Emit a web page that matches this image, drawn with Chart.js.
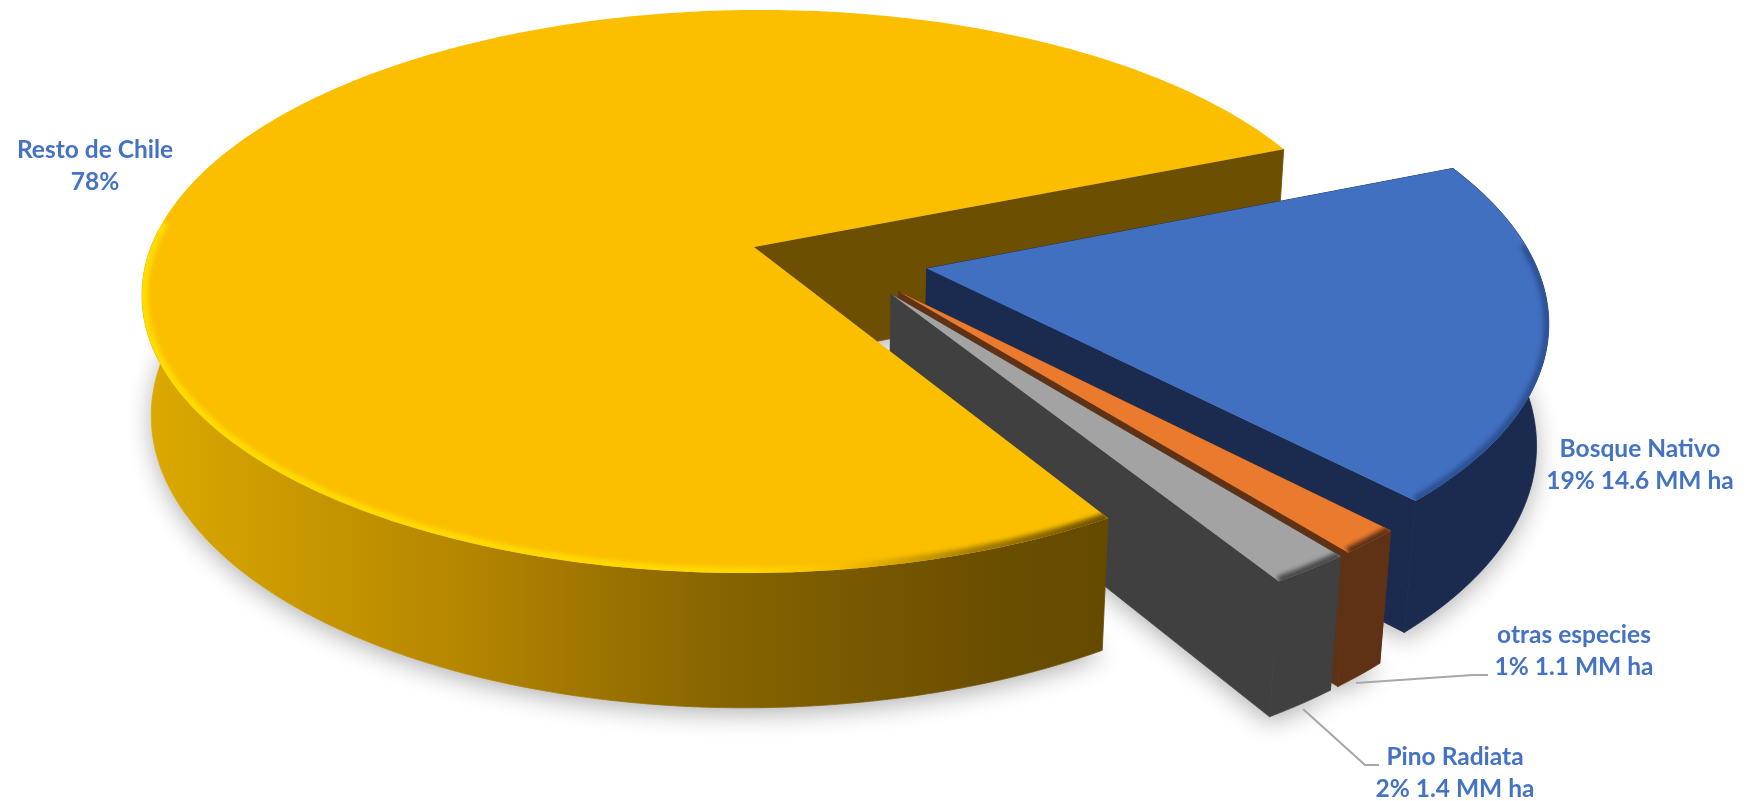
<!DOCTYPE html>
<html lang="es">
<head>
<meta charset="utf-8">
<title>Superficie forestal de Chile</title>
<script src="https://cdn.jsdelivr.net/npm/chart.js@4/dist/chart.umd.min.js"></script>
<style>
  html, body { margin: 0; padding: 0; background: #fff; }
  #wrap { width: 1750px; height: 801px; }
</style>
</head>
<body>
<div id="wrap"><canvas id="pie"></canvas></div>
<script>
// --- datos ---
const categories = ['Resto de Chile', 'Bosque Nativo', 'otras especies', 'Pino Radiata'];
const hectares = [59, 14.6, 1.1, 1.4];  // MM ha
const valueLabels = ['78%', '19% 14.6 MM ha', '1% 1.1 MM ha', '2% 1.4 MM ha'];

// --- colores ---
const topColors = ['#fbbf00', '#4170c0', '#ea7a2e', '#a3a3a3'];
const wallColors = ['#6c4f00', '#1a2b4f', '#5f3215', '#404040'];
const rimColors = ['#ffdc00', '#2d5296', '#5f3215', '#4a4a4a'];
const textColor = '#4472c4';

// Camara de la vista 3D: plano del disco -> pantalla
const view = { cx: 754, cy: 247, a: 603, b: 274.5, c: 120.4, k: 0.158, m: 0.015, shear: -8 };

function project(u, v, z) {
  const w = 1 - view.k * v + view.m * z;
  return [view.cx + (view.a * u + view.shear * v) / w, view.cy + (view.b * v + view.c * z) / w];
}

// Lee la geometria de cada arco ya calculada por Chart.js
function sliceGeometry(arc, shift) {
  const p = arc.getProps(['startAngle', 'endAngle', 'outerRadius']);
  const mid = (p.startAngle + p.endAngle) / 2;
  const off = arc.options.offset / p.outerRadius;
  return {
    start: p.startAngle,
    end: p.endAngle,
    ou: off * Math.cos(mid) + shift[0],
    ov: off * Math.sin(mid) + shift[1]
  };
}

function rimPoints(s, z, from, to) {
  const pts = [];
  const a0 = from === undefined ? s.start : from;
  const a1 = to === undefined ? s.end : to;
  const n = Math.max(2, Math.ceil((a1 - a0) / 0.02));
  for (let i = 0; i <= n; i++) {
    const a = a0 + (a1 - a0) * i / n;
    pts.push(project(s.ou + Math.cos(a), s.ov + Math.sin(a), z));
  }
  return pts;
}

function tracePoly(ctx, pts) {
  ctx.beginPath();
  pts.forEach((p, i) => i ? ctx.lineTo(p[0], p[1]) : ctx.moveTo(p[0], p[1]));
  ctx.closePath();
}

// relleno con trazo fino para que no queden rendijas claras entre caras
function paint(ctx, fill) {
  ctx.fillStyle = fill;
  ctx.strokeStyle = fill;
  ctx.lineWidth = 0.8;
  ctx.fill();
  ctx.stroke();
}

function radialWall(ctx, s, angle, fill) {
  const tip = [s.ou, s.ov];
  const edge = [s.ou + Math.cos(angle), s.ov + Math.sin(angle)];
  tracePoly(ctx, [project(tip[0], tip[1], 0), project(edge[0], edge[1], 0),
                  project(edge[0], edge[1], 1), project(tip[0], tip[1], 1)]);
  paint(ctx, fill);
}

function outerWall(ctx, s, fill, from, to) {
  tracePoly(ctx, rimPoints(s, 0, from, to).concat(rimPoints(s, 1, from, to).reverse()));
  paint(ctx, fill);
}

function topFace(ctx, s, i) {
  const outline = [project(s.ou, s.ov, 0)].concat(rimPoints(s, 0));
  tracePoly(ctx, outline);
  ctx.fillStyle = topColors[i];
  ctx.fill();

  // bisel suave en el borde delantero
  let from = s.start, to = s.end;
  const step = 0.01;
  while (from < to && Math.sin(from) < -0.1) from += step;
  while (to > from && Math.sin(to) < -0.1) to -= step;
  if (i === 1) from = s.start + 0.3;

  ctx.save();
  tracePoly(ctx, outline);
  ctx.clip();
  ctx.filter = 'blur(2px)';
  ctx.beginPath();
  rimPoints(s, 0, from, to).forEach((p, j) => j ? ctx.lineTo(p[0], p[1]) : ctx.moveTo(p[0], p[1]));
  ctx.lineWidth = i === 0 ? 12 : 11;
  if (i === 0) {
    const g = ctx.createLinearGradient(140, 0, 1112, 0);
    g.addColorStop(0, '#ffdc00');
    g.addColorStop(0.62, '#ffd800');
    g.addColorStop(0.72, '#fbbf00');
    g.addColorStop(0.86, '#a67f00');
    g.addColorStop(1, '#6c4f00');
    ctx.strokeStyle = g;
  } else {
    ctx.strokeStyle = rimColors[i];
  }
  ctx.stroke();
  ctx.restore();
}

function drawLabels(ctx) {
  ctx.save();
  ctx.fillStyle = textColor;
  ctx.font = 'bold 24.5px Lato, "Open Sans", sans-serif';
  ctx.textAlign = 'center';
  ctx.textBaseline = 'alphabetic';
  labelSpots.forEach((spot, i) => {
    ctx.fillText(categories[i], spot[0], spot[1]);
    ctx.fillText(valueLabels[i], spot[0], spot[1] + 32);
  });
  ctx.strokeStyle = '#a8a8a8';
  ctx.lineWidth = 2.2;
  leaders.forEach(line => {
    ctx.beginPath();
    line.forEach((p, j) => j ? ctx.lineTo(p[0], p[1]) : ctx.moveTo(p[0], p[1]));
    ctx.stroke();
  });
  ctx.restore();
}

// Donde va cada etiqueta (x centro, linea base de la primera fila)
const labelSpots = [[95, 158], [1640, 457], [1574, 643], [1455, 765]];
const leaders = [
  [[1356, 683], [1473, 675], [1488, 675]],
  [[1303, 709], [1365, 765], [1379, 765]]
];

// El pastel se pinta con volumen a partir de los arcos del controlador
const pie3d = {
  id: 'pie3d',
  beforeDatasetDraw(chart, args) {
    const ctx = chart.ctx;
    const arcs = chart.getDatasetMeta(args.index).data;
    const first = arcs[0].getProps(['startAngle', 'endAngle', 'outerRadius']);
    const firstMid = (first.startAngle + first.endAngle) / 2;
    const firstOff = arcs[0].options.offset / first.outerRadius;
    // el origen de la camara queda en la punta del sector mayor
    const shift = [-firstOff * Math.cos(firstMid), -firstOff * Math.sin(firstMid)];
    const slices = arcs.map(a => sliceGeometry(a, shift));
    const big = slices[0];
    const backFrom = Math.PI * 1.02;  // desde aqui la pared del sector mayor queda oculta

    // sombra bajo las bases
    ctx.save();
    ctx.shadowColor = 'rgba(0,0,0,0.3)';
    ctx.shadowBlur = 24;
    ctx.shadowOffsetY = 6;
    slices.forEach(s => {
      tracePoly(ctx, [project(s.ou, s.ov, 1)].concat(rimPoints(s, 1)));
      ctx.fillStyle = '#fff';
      ctx.fill();
    });
    ctx.restore();

    // cara interior del sector mayor, queda detras de los demas
    radialWall(ctx, big, big.end, wallColors[0]);

    [1, 2, 3].forEach(i => {
      const s = slices[i];
      radialWall(ctx, s, s.start, wallColors[i]);
      outerWall(ctx, s, wallColors[i]);
      radialWall(ctx, s, s.end, wallColors[i]);
      topFace(ctx, s, i);
    });

    const wallFill = ctx.createLinearGradient(140, 0, 1112, 0);
    wallFill.addColorStop(0, '#dcaa00');
    wallFill.addColorStop(0.33, '#b58600');
    wallFill.addColorStop(0.6, '#866400');
    wallFill.addColorStop(0.86, '#6c4f00');
    wallFill.addColorStop(1, '#644a00');
    outerWall(ctx, big, wallFill, big.start, backFrom);
    topFace(ctx, big, 0);

    drawLabels(ctx);
    return false;
  }
};

new Chart(document.getElementById('pie'), {
  type: 'pie',
  data: {
    labels: categories,
    datasets: [{
      data: hectares,
      backgroundColor: topColors,
      borderWidth: 0,
      offset: 55
    }]
  },
  options: {
    responsive: true,
    maintainAspectRatio: false,
    animation: false,
    rotation: 148.7,
    layout: { padding: 0 },
    plugins: { legend: { display: false }, tooltip: { enabled: false } }
  },
  plugins: [pie3d]
});
</script>
</body>
</html>
